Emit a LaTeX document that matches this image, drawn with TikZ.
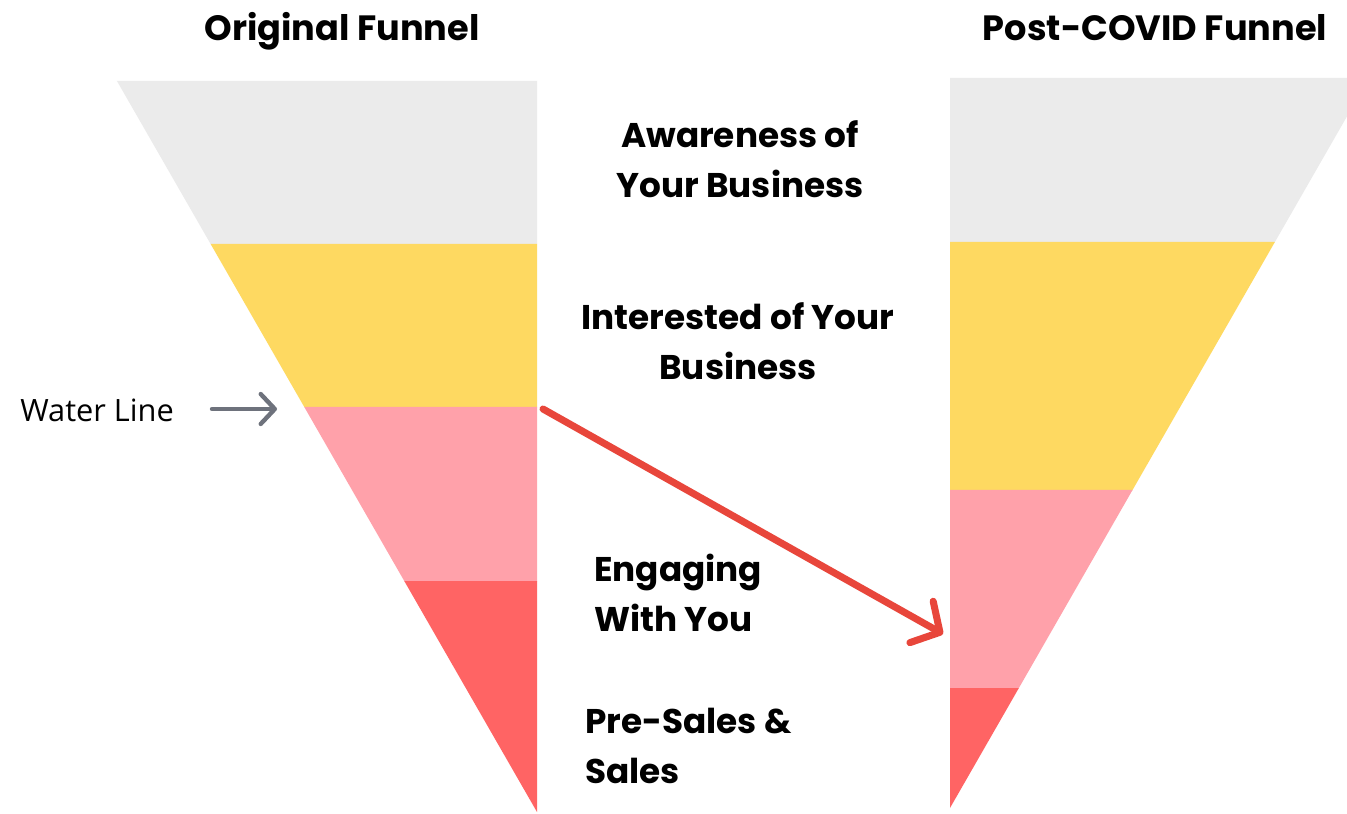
\documentclass[tikz,border=0pt]{standalone}
\usepackage{fontspec}
\setmainfont{Poppins}
\newfontfamily\waterfont{Open Sans}
\usetikzlibrary{arrows.meta}

\definecolor{fgray}{HTML}{EBEBEB}
\definecolor{fyellow}{HTML}{FED961}
\definecolor{fpink}{HTML}{FFA1AA}
\definecolor{fred}{HTML}{FF6464}
\definecolor{arrowred}{HTML}{E8463B}
\definecolor{arrowgray}{HTML}{6E727C}

\begin{document}
\begin{tikzpicture}[x=0.02cm,y=-0.02cm,
    title/.style={font=\fontsize{20}{28}\selectfont\bfseries, anchor=base},
    stage/.style={font=\fontsize{19.5}{28.5}\selectfont\bfseries, align=center},
    stageleft/.style={font=\fontsize{19.5}{28.5}\selectfont\bfseries, align=left, anchor=west, inner sep=0pt}]
          \clip (0,0) rectangle (1347,814);
          \fill[white] (0,0) rectangle (1347,814);

          % original funnel, apex at (537,812)
          \foreach \ya/\yb/\col in {81/244.5/fgray,244/407.5/fyellow,407/581.5/fpink,581/812/fred}{
            \fill[\col] ({537-0.5746*(812-\ya)},\ya) -- (537,\ya) -- (537,\yb)
              -- ({537-0.5746*(812-\yb)},\yb) -- cycle;
          }

          % post-covid funnel, apex at (950,808)
          \foreach \ya/\yb/\col in {78/242.5/fgray,242/490.5/fyellow,490/688.5/fpink,688/808/fred}{
            \fill[\col] (950,\ya) -- ({950+0.574*(808-\ya)},\ya)
              -- ({950+0.574*(808-\yb)},\yb) -- (950,\yb) -- cycle;
          }

          \node[title] (orig) at (342,41) {Original Funnel};
          \node[title] (post) at (1155,41) {Post-COVID Funnel};

          \node[stage] (aware) at (740,159) {Awareness of\\Your Business};
          \node[stage] (inter) at (738,341) {Interested of Your\\Business};
          \node[stageleft] (engage) at (594,593) {Engaging\\With You};
          \node[stageleft] (sales) at (585,746) {Pre-Sales \&\\Sales};

          \node[anchor=west, inner sep=0pt, font=\waterfont\fontsize{17.5}{20}\selectfont] (water) at (20,410) {Water Line};

          \coordinate (wstart) at (212,409);
          \coordinate (wend) at (277,409);
          \coordinate (drop) at (543,409);
          \coordinate (land) at (943,634);

          \draw[arrowgray, line width=2.5pt, line cap=round,
            -{Straight Barb[length=8pt,width=17pt,line cap=round,line join=round]}] (wstart) -- (wend);
          \draw[arrowred, line width=4pt, line cap=round,
            -{Straight Barb[length=12pt,width=27pt,line cap=round,line join=round]}] (drop) -- (land);
        \end{tikzpicture}
\end{document}
